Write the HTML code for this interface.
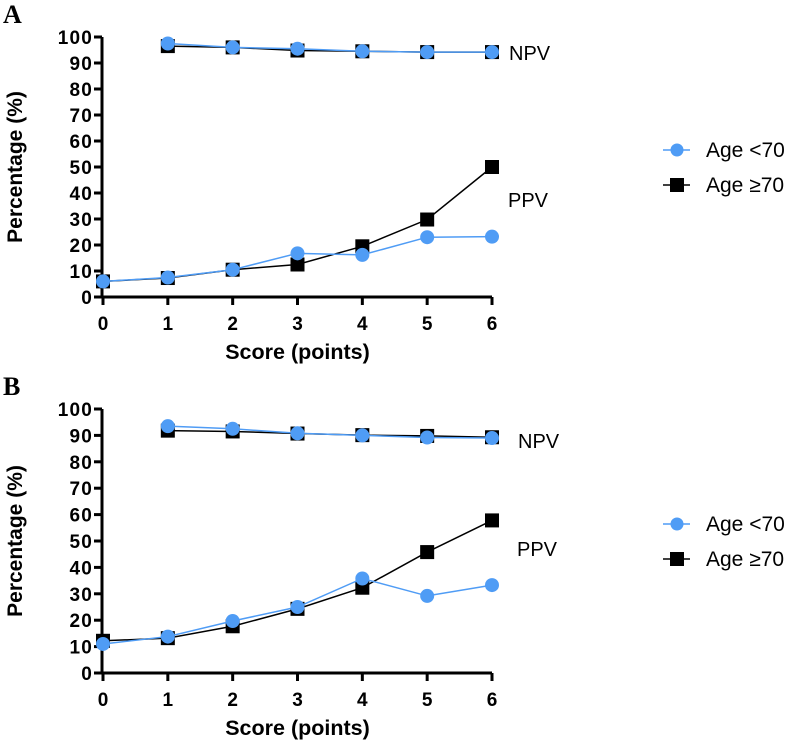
<!DOCTYPE html>
<html><head><meta charset="utf-8"><style>
body{margin:0;background:#fff;}
svg{display:block;font-family:"Liberation Sans",Arial,sans-serif;}
</style></head><body>
<svg id="c" width="787" height="741"></svg>
<script>
const xCats=[0,1,2,3,4,5,6];
const yTicks=[0,10,20,30,40,50,60,70,80,90,100];
const aNpvYoung=[null,97.5,96,95.5,94.5,94.2,94.2];
const aNpvOld=[null,96.5,96,94.8,94.5,94.2,94.2];
const aPpvYoung=[6,7.5,10.5,16.8,16.2,23,23.2];
const aPpvOld=[6,7.3,10.5,12.5,19.5,29.8,50];
const bNpvYoung=[null,93.5,92.5,90.8,90,89.2,89];
const bNpvOld=[null,91.8,91.5,90.7,90.1,89.8,89.3];
const bPpvYoung=[11,13.8,19.7,25,35.8,29.2,33.3];
const bPpvOld=[12.2,13.2,17.7,24.3,32.3,45.8,57.8];

const NS="http://www.w3.org/2000/svg";
const svg=document.getElementById('c');
function mk(t,a,p){const e=document.createElementNS(NS,t);for(const k in a)e.setAttribute(k,a[k]);(p||svg).appendChild(e);return e;}
const BLUE="#4f9cf5";
function panel(letter,top,bottom,npvY,npvO,ppvY,ppvO,key,npvLabelY,ppvLabelY,legY){
  const g=mk('g',{});
  
  
  const x=v=>103+v*(492-103)/6;
  const y=v=>bottom-v*(bottom-top)/100;
  const L=mk('text',{x:3,y:top-14,'font-family':'Liberation Serif,serif','font-weight':'bold','font-size':26},g);L.textContent=letter;
  
  const ax=mk('path',{d:`M102 ${top}V${bottom}H${x(6)}`,stroke:'#000','stroke-width':3,fill:'none'},g);
  
  yTicks.forEach(t=>{mk('line',{x1:94,x2:102,y1:y(t),y2:y(t),stroke:'#000','stroke-width':3},g);
    const tx=mk('text',{x:93,y:y(t)+7,'text-anchor':'end','font-weight':'bold','font-size':19,'letter-spacing':1.2},g);tx.textContent=t;
    });
  xCats.forEach(c=>{mk('line',{x1:x(c),x2:x(c),y1:bottom,y2:bottom+8,stroke:'#000','stroke-width':3},g);
    const tx=mk('text',{x:x(c),y:bottom+33,'text-anchor':'middle','font-weight':'bold','font-size':19},g);tx.textContent=c;
    });
  const yt=mk('text',{transform:`translate(22 ${(top+bottom)/2}) rotate(-90)`,'text-anchor':'middle','font-weight':'bold','font-size':21},g);yt.textContent='Percentage (%)';
  
  const xt=mk('text',{x:x(3),y:bottom+62,'text-anchor':'middle','font-weight':'bold','font-size':21.5},g);xt.textContent='Score (points)';
  
  function series(vals,col,sq,name){
    const pts=[];vals.forEach((v,i)=>{if(v!==null)pts.push([x(xCats[i]),y(v)]);});
    const ln=mk('polyline',{points:pts.map(p=>p.join(',')).join(' '),stroke:col,'stroke-width':1.5,fill:'none'},g);
    
    pts.forEach(p=>{let m;if(sq)m=mk('rect',{x:p[0]-7,y:p[1]-7,width:14,height:14,fill:'#000'},g);
      else m=mk('circle',{cx:p[0],cy:p[1],r:7,fill:BLUE},g);
      });
  }
  series(npvO,'#000',true,'npv-age-70-plus');
  series(ppvO,'#000',true,'ppv-age-70-plus');
  series(npvY,BLUE,false,'npv-age-under-70');
  series(ppvY,BLUE,false,'ppv-age-under-70');
  const n=mk('text',{x:key==='a'?509:518,y:npvLabelY,'font-size':20},g);n.textContent='NPV';
  
  const p=mk('text',{x:key==='a'?508:517,y:ppvLabelY,'font-size':20},g);p.textContent='PPV';
  
  const l1=mk('g',{},g);
  mk('line',{x1:663,x2:690,y1:legY,y2:legY,stroke:BLUE,'stroke-width':1.5},l1);
  mk('circle',{cx:677,cy:legY,r:6.5,fill:BLUE},l1);
  mk('text',{x:706,y:legY+7,'font-size':21},l1).textContent='Age <70';
  const l2=mk('g',{},g);
  mk('line',{x1:663,x2:690,y1:legY+35,y2:legY+35,stroke:'#000','stroke-width':1.5},l2);
  mk('rect',{x:670,y:legY+28,width:14,height:14,fill:'#000'},l2);
  mk('text',{x:706,y:legY+42,'font-size':21},l2).textContent='Age ≥70';
}
panel('A',37,297,aNpvYoung,aNpvOld,aPpvYoung,aPpvOld,'a',60,207,150);
panel('B',409,673,bNpvYoung,bNpvOld,bPpvYoung,bPpvOld,'b',448,556,524);
</script>
</body></html>
